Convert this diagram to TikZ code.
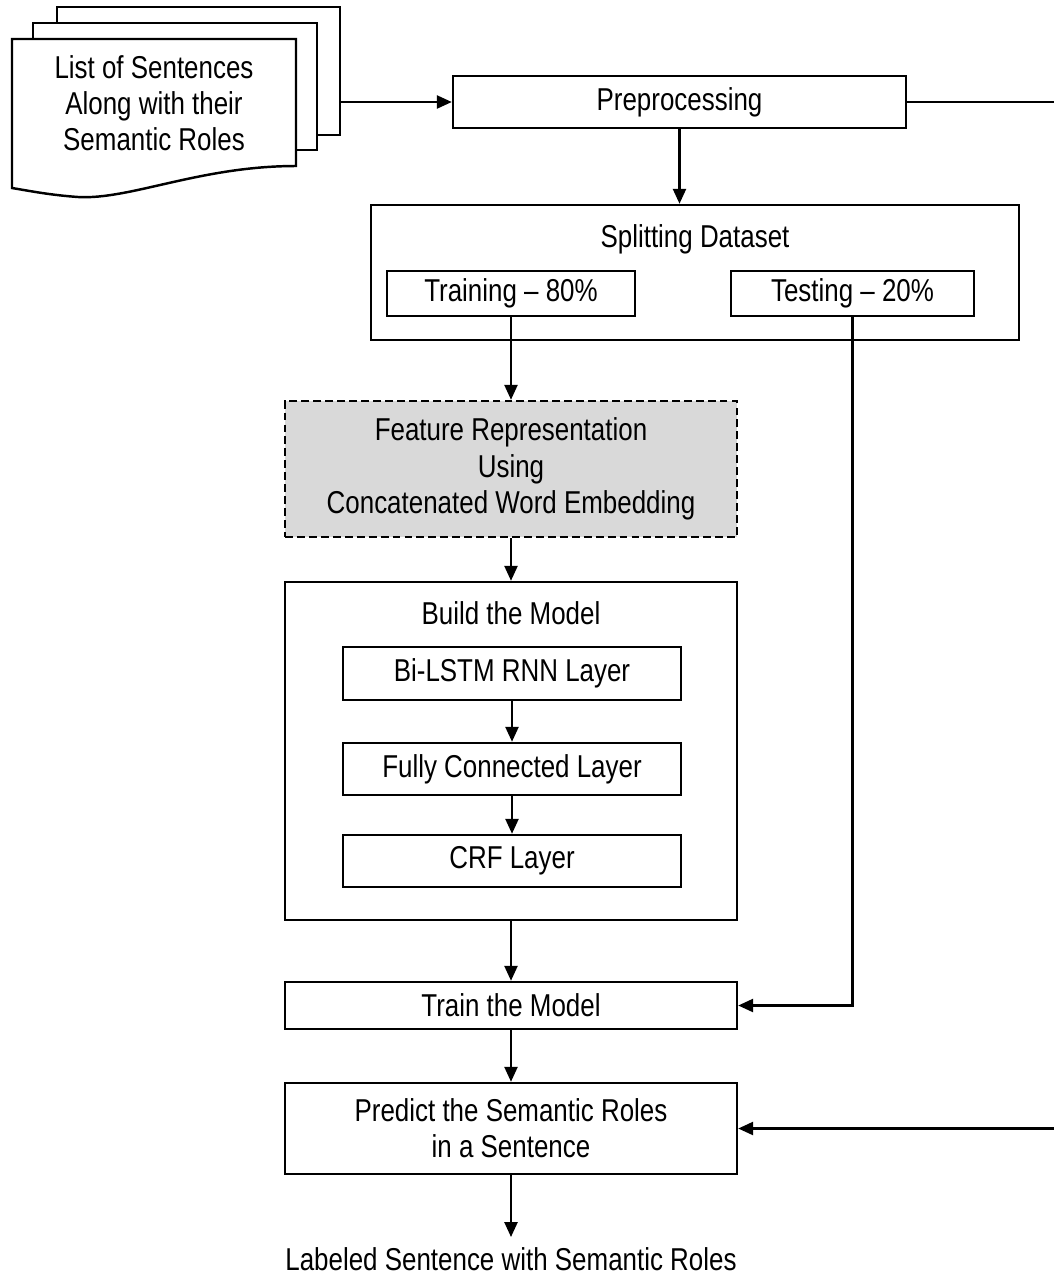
\documentclass[tikz,border=0pt]{standalone}
\usepackage{fontspec}
\setmainfont{Liberation Sans}[FakeStretch=0.82]
\usetikzlibrary{arrows.meta}
\begin{document}
\begin{tikzpicture}[x=0.02cm,y=-0.02cm,
  every node/.style={font=\fontsize{18}{20.6}\selectfont, inner sep=0pt, align=center},
  box/.style={draw, line width=1.4pt, fill=white},
  arr/.style={line width=1.4pt, -{Triangle[length=0.3cm,width=0.26cm]}},
  ln/.style={line width=1.4pt}]
\useasboundingbox (0,0) rectangle (1054,1279);
% document stack
\node[box, minimum width=5.66cm, minimum height=2.56cm] (docback) at (198.5,71) {};
\node[box, minimum width=5.68cm, minimum height=2.54cm] (docmid) at (175,86.5) {};
\draw[ln, fill=white] (12,39) -- (296,39) -- (296,166) .. controls (200,166) and (130,200) .. (78,197) .. controls (50,195) and (30,191) .. (12,188) -- cycle;
\node (doc) at (154,103) {List of Sentences\\Along with their\\Semantic Roles};
% preprocessing
\node[box, minimum width=9.06cm, minimum height=1.04cm] (prep) at (679.5,102) {Preprocessing};
\draw[arr] (docback.east |- prep.west) -- (prep.west);
\coordinate (rtop) at (1060,102);
\draw[ln] (prep.east) -- (rtop);
% splitting
\node[box, minimum width=12.96cm, minimum height=2.7cm] (split) at (695,272.5) {};
\node (splitt) at (695,239) {Splitting Dataset};
\node[box, minimum width=4.96cm, minimum height=0.9cm] (tr80) at (511,293.5) {Training -- 80\%};
\node[box, minimum width=4.86cm, minimum height=0.9cm] (te20) at (852.5,293.5) {Testing -- 20\%};
\draw[arr] (prep.south) -- (prep.south |- split.north);
% feature
\node[box, dash pattern=on 4.5pt off 2.3pt, fill=black!15, minimum width=9.04cm, minimum height=2.72cm] (feat) at (511,469) {Feature Representation\\Using\\Concatenated Word Embedding};
\draw[arr] (tr80.south) -- (feat.north);
% build
\node[box, minimum width=9.04cm, minimum height=6.76cm] (build) at (511,751) {};
\node (buildt) at (511,613) {Build the Model};
\node[box, minimum width=6.76cm, minimum height=1.06cm] (bilstm) at (512,673.5) {Bi-LSTM RNN Layer};
\node[box, minimum width=6.76cm, minimum height=1.04cm] (fc) at (512,769) {Fully Connected Layer};
\node[box, minimum width=6.76cm, minimum height=1.04cm] (crf) at (512,861) {CRF Layer};
\draw[arr] (feat.south) -- (build.north);
\draw[arr] (bilstm.south) -- (fc.north);
\draw[arr] (fc.south) -- (crf.north);
% train / predict
\node[box, minimum width=9.04cm, minimum height=0.94cm] (trainm) at (511,1005.5) {Train the Model};
\node[box, minimum width=9.04cm, minimum height=1.82cm] (pred) at (511,1128.5) {Predict the Semantic Roles\\in a Sentence};
\draw[arr] (build.south) -- (trainm.north);
\draw[arr] (te20.south) |- (trainm.east);
\draw[arr] (trainm.south) -- (pred.north);
\coordinate (rbot) at (1060,1128.5);
\draw[arr] (rbot) -- (pred.east);
\node (out) at (511,1259) {Labeled Sentence with Semantic Roles};
\draw[arr, shorten >=0.2cm] (pred.south) -- (out.north);
\end{tikzpicture}
\end{document}
